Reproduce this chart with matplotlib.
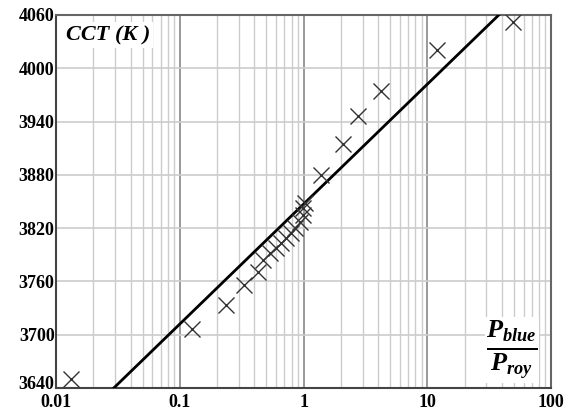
import numpy as np
import matplotlib.pyplot as plt
from matplotlib.ticker import NullFormatter, LogLocator
from matplotlib.transforms import ScaledTranslation

plt.rcParams['mathtext.fontset'] = 'custom'
plt.rcParams['mathtext.it'] = 'Liberation Serif:italic:bold'
plt.rcParams['mathtext.rm'] = 'Liberation Serif:bold'
plt.rcParams['mathtext.bf'] = 'Liberation Serif:bold'

# measured points (ratio P_blue/P_roy, CCT in K)
ratio = [0.0132, 0.125, 0.235, 0.328, 0.426, 0.47, 0.532, 0.594, 0.66,
         0.725, 0.796, 0.861, 0.929, 0.987, 0.99, 1.02,
         1.39, 2.07, 2.78, 4.22, 11.96, 49.7]
cct = [3650, 3706, 3733, 3756, 3771, 3784, 3792, 3798, 3803,
       3809, 3814, 3820, 3827, 3835, 3843, 3848,
       3880, 3915, 3946, 3974, 4021, 4052]

# fitted line CCT = a + b*log10(ratio)
fit_a = 3847
fit_b = 135
fit_x = [0.01, 100]

yticks = [3640, 3700, 3760, 3820, 3880, 3940, 4000, 4060]
xticks = [0.01, 0.1, 1, 10, 100]
xticklabels = ['0.01', '0.1', '1', '10', '100']

fig = plt.figure(figsize=(5.74, 4.16), dpi=100)
ax = fig.add_axes([0.0976, 0.0673, 0.8624, 0.8967])

fx = np.array(fit_x)
ax.plot(fx, fit_a + fit_b * np.log10(fx), color='black', lw=2, zorder=3)
ax.plot(ratio, cct, linestyle='none', marker='x', ms=12, mew=1,
        color='#333333', zorder=4)

ax.set_xscale('log')
ax.set_xlim(0.01, 100)
ax.set_ylim(3640, 4060)
ax.set_xticks(xticks)
ax.set_xticklabels(xticklabels)
ax.xaxis.set_minor_locator(LogLocator(base=10, subs=np.arange(2, 10)))
ax.xaxis.set_minor_formatter(NullFormatter())
ax.set_yticks(yticks)

ax.grid(True, which='major', axis='x', color='#888888', lw=1.2)
ax.grid(True, which='minor', axis='x', color='#cccccc', lw=1.0)
ax.grid(True, which='major', axis='y', color='#cccccc', lw=1.2)
ax.set_axisbelow(True)

ax.tick_params(which='both', length=0)
ax.tick_params(axis='x', pad=4)
ax.tick_params(axis='y', pad=1)
for lab in ax.get_xticklabels() + ax.get_yticklabels():
    lab.set_fontfamily('Liberation Serif')
    lab.set_fontweight('bold')
    lab.set_fontsize(13)

# lift the lowest y label a little so it clears the 0.01 label
low = ax.get_yticklabels()[0]
low.set_transform(low.get_transform() + ScaledTranslation(0, 6 / 100, fig.dpi_scale_trans))

for side in ['left', 'bottom']:
    ax.spines[side].set_color('#444444')
    ax.spines[side].set_linewidth(1.5)
for side in ['right', 'top']:
    ax.spines[side].set_color('#666666')
    ax.spines[side].set_linewidth(1.5)

ax.text(0.02, 0.946, 'CCT (K )', transform=ax.transAxes, fontfamily='Liberation Serif',
        fontweight='bold', fontstyle='italic', fontsize=16, va='center', ha='left',
        bbox=dict(facecolor='white', edgecolor='none', pad=2), zorder=5)

ax.text(0.921, 0.102, r'$\frac{P_{blue}}{P_{roy}}$', transform=ax.transAxes,
        fontsize=27, va='center', ha='center',
        bbox=dict(facecolor='white', edgecolor='none', pad=1), zorder=5)

fig.savefig('out.png', dpi=100)
